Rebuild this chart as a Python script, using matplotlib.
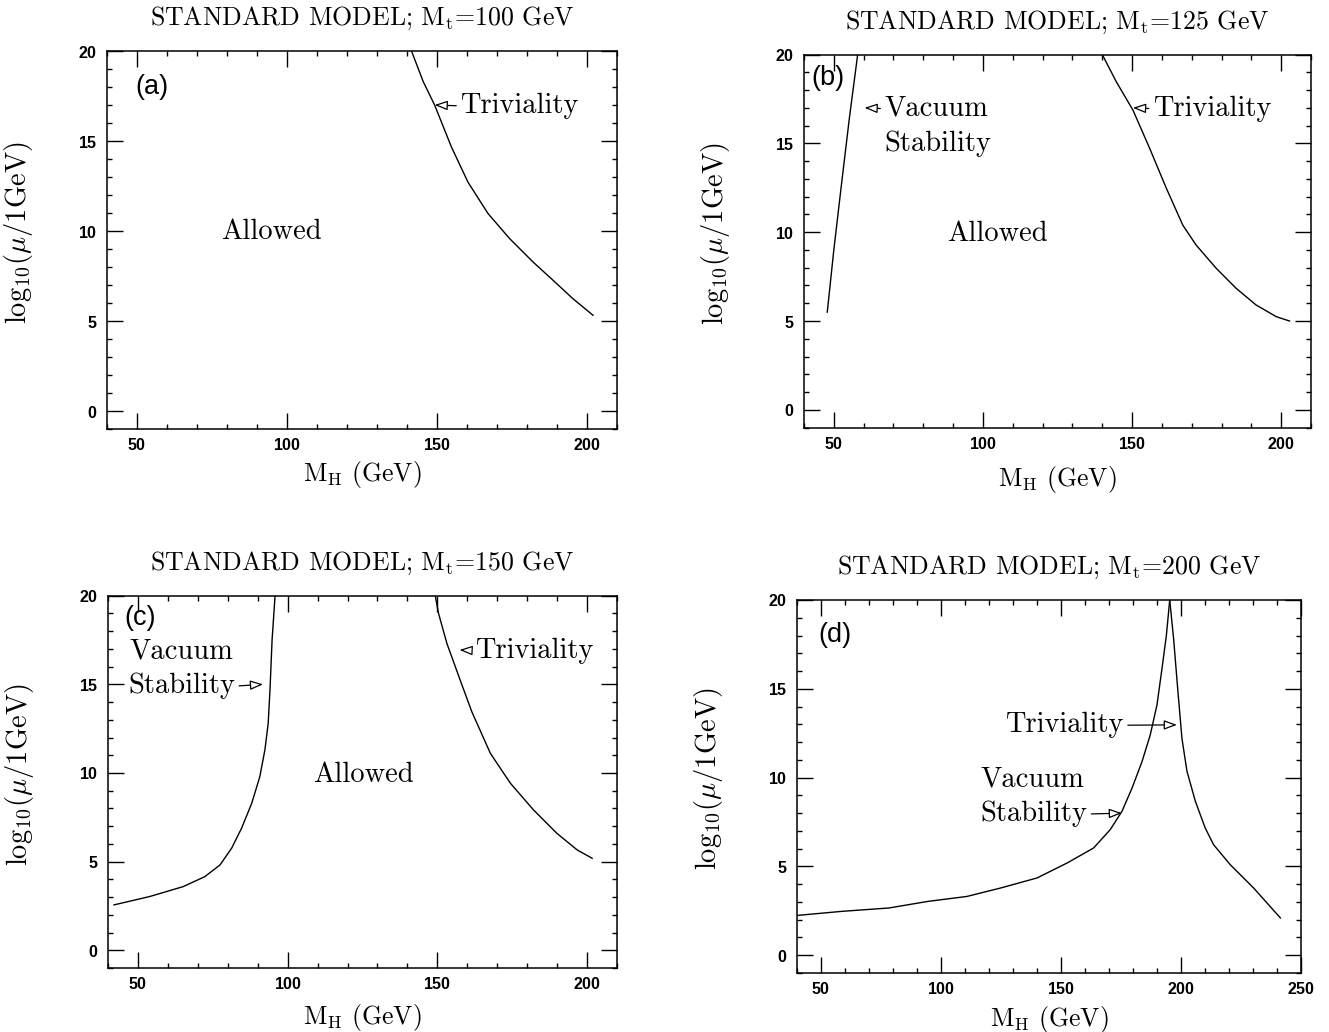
import matplotlib
matplotlib.use("Agg")
import matplotlib.pyplot as plt
from matplotlib.ticker import MultipleLocator

plt.rcParams['font.family'] = 'cmr10'
plt.rcParams['mathtext.fontset'] = 'cm'
plt.rcParams['axes.formatter.use_mathtext'] = True

# ---- data (M_H in GeV, log10(mu/1GeV)) ----
mt_values = [100, 125, 150, 200]
panel_tags = ["(a)", "(b)", "(c)", "(d)"]

triv_a_x = [141.5, 145.4, 149.2, 154.8, 160.3, 167.0, 174.2, 182.0, 188.7, 195.3, 202.0]
triv_a_y = [20.0, 18.3, 17.0, 14.67, 12.72, 10.97, 9.58, 8.28, 7.26, 6.24, 5.32]

vac_b_x = [47.8, 50.0, 52.5, 55.2, 58.0]
vac_b_y = [5.5, 9.0, 12.6, 16.4, 20.0]
triv_b_x = [140.0, 144.7, 150.3, 155.9, 161.5, 167.0, 171.5, 178.2, 184.9, 191.6, 198.4, 202.8]
triv_b_y = [20.0, 18.47, 16.87, 14.72, 12.47, 10.4, 9.27, 7.97, 6.84, 5.9, 5.24, 5.0]

vac_c_x = [42.0, 53.9, 65.1, 72.3, 77.4, 81.3, 84.6, 88.0, 90.7, 92.4, 93.5, 94.1, 94.8, 95.8]
vac_c_y = [2.56, 3.03, 3.59, 4.15, 4.81, 5.76, 6.88, 8.29, 9.79, 11.3, 12.8, 14.68, 17.5, 20.0]
triv_c_x = [149.3, 150.4, 153.2, 157.6, 161.5, 167.7, 174.4, 182.1, 189.9, 196.7, 201.7]
triv_c_y = [20.0, 19.0, 17.3, 15.25, 13.46, 11.11, 9.42, 7.92, 6.6, 5.66, 5.19]

vac_d_x = [40.0, 58.6, 78.3, 94.5, 110.8, 124.7, 140.0, 152.5, 163.6, 170.5, 175.4,
           179.6, 183.75, 187.2, 190.0, 192.1, 193.9, 195.3]
vac_d_y = [2.24, 2.47, 2.66, 3.03, 3.31, 3.78, 4.35, 5.19, 6.04, 7.07, 8.1,
           9.41, 10.9, 12.41, 14.1, 16.16, 18.0, 20.0]
triv_d_x = [195.3, 196.9, 198.6, 200.4, 202.5, 206.0, 210.1, 213.6, 220.5, 230.3, 241.4]
triv_d_y = [20.0, 17.85, 15.04, 12.2, 10.35, 8.66, 7.16, 6.22, 5.1, 3.78, 2.1]

W, H = 1329, 1032
fig = plt.figure(figsize=(W / 100, H / 100), dpi=100)

# axes boxes in pixels: left, top, right, bottom
boxes = [(107, 51, 617, 429), (804, 54.5, 1311, 427.6),
         (108, 595.7, 617, 968), (797, 600, 1301, 973)]
xlims = [(40, 210), (40, 210), (40, 210), (40, 250)]
tag_pos = [(49.6, 18.0), (42.5, 18.66), (45.6, 18.73), (48.7, 18.04)]
xlabel_y = [-0.08, -0.098, -0.092, -0.082]

tick_font = dict(family='Liberation Sans', weight='bold', size=11.5)
note_size = 20.5
arrow = dict(arrowstyle='-|>,head_length=0.38,head_width=0.14', fc='white',
             ec='black', lw=0.9, shrinkA=1, shrinkB=0)


def setup(i):
    l, t, r, b = boxes[i]
    ax = fig.add_axes([l / W, 1 - b / H, (r - l) / W, (b - t) / H])
    ax.set_xlim(*xlims[i])
    ax.set_ylim(-1, 20)
    ax.xaxis.set_major_locator(MultipleLocator(50))
    ax.xaxis.set_minor_locator(MultipleLocator(10))
    ax.yaxis.set_major_locator(MultipleLocator(5))
    ax.yaxis.set_minor_locator(MultipleLocator(1))
    ax.tick_params(which='both', direction='in', top=True, right=True, width=1.0)
    ax.tick_params(which='major', length=11.5)
    ax.tick_params(axis='x', which='major', pad=6)
    ax.tick_params(axis='y', which='major', pad=7)
    ax.tick_params(which='minor', length=3.8)
    for lab in ax.get_xticklabels() + ax.get_yticklabels():
        lab.set(**tick_font)
    for s in ax.spines.values():
        s.set_linewidth(1.1)
    ax.set_title(r"STANDARD MODEL; M$_{\rm t}$=%d GeV" % mt_values[i], fontsize=18.6, pad=18.5)
    ax.set_xlabel(r"M$_{\rm H}$ (GeV)", fontsize=18.5)
    ax.xaxis.set_label_coords(0.5, xlabel_y[i])
    ax.set_ylabel(r"log$_{10}$($\mu$/1GeV)", fontsize=20.5)
    ax.yaxis.set_label_coords(-0.142, 0.52)
    ax.text(*tag_pos[i], panel_tags[i], fontsize=19.5,
            family='Liberation Sans', va='center', ha='left')
    return ax


def note(ax, s, x, y, **kw):
    ax.text(x, y, s, fontsize=note_size, va='center', **kw)


def pointer(ax, s, tip, start, side):
    # side: 'left' -> arrow leaves the left of the text, 'right' -> the right
    rel = (0, 0.5) if side == 'left' else (1, 0.5)
    ax.annotate(s, xy=tip, xytext=start, fontsize=note_size, va='center', ha='left',
                arrowprops=dict(arrow, relpos=rel))


lw = 1.0
ax = setup(0)
ax.plot(triv_a_x, triv_a_y, color='black', lw=lw)
pointer(ax, "Triviality", (149.2, 17.0), (157.8, 16.95), 'left')
note(ax, "Allowed", 94.7, 9.94, ha='center')

ax = setup(1)
ax.plot(vac_b_x, vac_b_y, color='black', lw=lw)
ax.plot(triv_b_x, triv_b_y, color='black', lw=lw)
pointer(ax, "Triviality", (150.3, 17.0), (157.0, 16.95), 'left')
pointer(ax, "Vacuum", (60.3, 17.0), (67.0, 16.95), 'left')
note(ax, "Stability", 67.0, 14.95, ha='left')
note(ax, "Allowed", 104.9, 9.93, ha='center')

ax = setup(2)
ax.plot(vac_c_x, vac_c_y, color='black', lw=lw)
ax.plot(triv_c_x, triv_c_y, color='black', lw=lw)
pointer(ax, "Triviality", (157.4, 16.94), (162.6, 16.9), 'left')
note(ax, "Vacuum", 47.3, 16.84, ha='left')
pointer(ax, "Stability", (91.8, 15.0), (46.7, 14.9), 'right')
note(ax, "Allowed", 125.2, 9.89, ha='center')

ax = setup(3)
ax.plot(vac_d_x, vac_d_y, color='black', lw=lw)
ax.plot(triv_d_x, triv_d_y, color='black', lw=lw)
pointer(ax, "Triviality", (198.3, 12.97), (126.8, 12.95), 'right')
note(ax, "Vacuum", 116.4, 9.88, ha='left')
pointer(ax, "Stability", (175.4, 8.0), (116.4, 7.95), 'right')

fig.savefig("out.png", dpi=100)
